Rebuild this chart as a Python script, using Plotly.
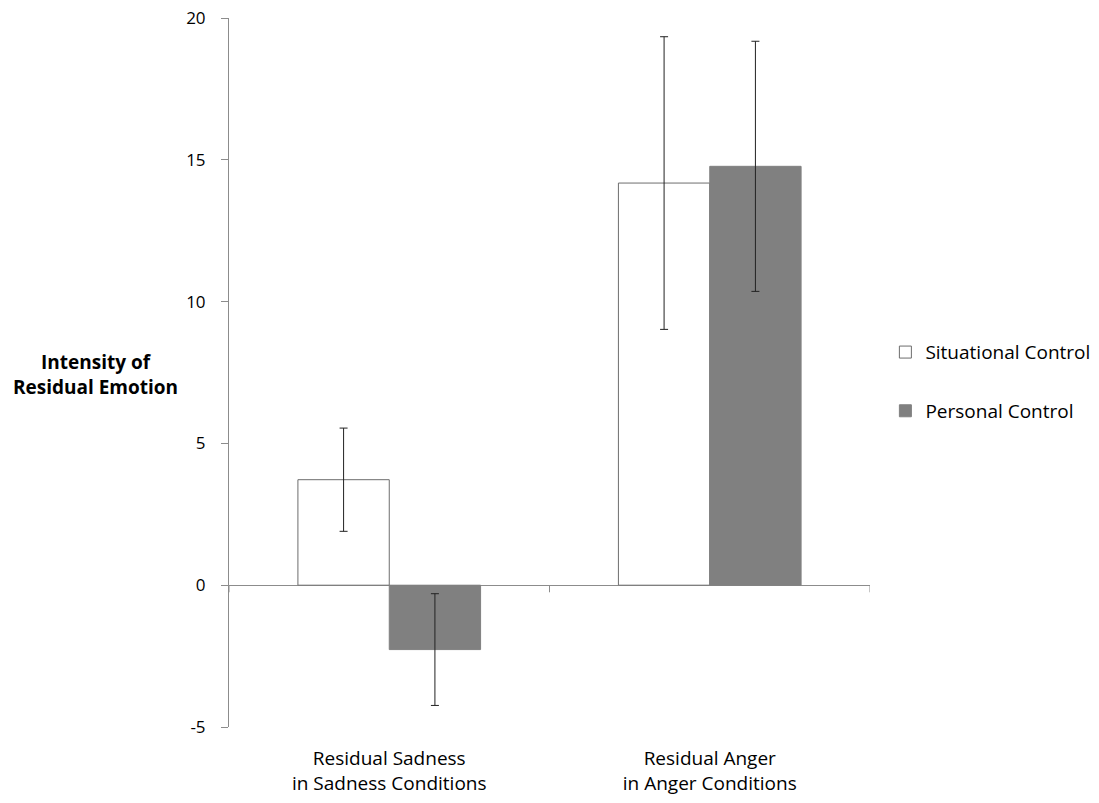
import plotly.graph_objects as go

categories = ["Residual Sadness<br>in Sadness Conditions", "Residual Anger<br>in Anger Conditions"]
situational = [3.72, 14.18]
situational_err = [1.82, 5.16]
personal = [-2.27, 14.77]
personal_err = [1.97, 4.41]
y_tick_vals = [-5, 0, 5, 10, 15, 20]
y_tick_text = ["-5", "0", "5", "10", "15", "20"]

FONT = "Open Sans"
FS = 19
fig = go.Figure()
fig.add_trace(go.Bar(
    x=categories, y=situational, name="Situational Control", legendgroup="a",
    marker=dict(color="white", line=dict(color="#6d6d6d", width=1)),
    error_y=dict(type="data", array=situational_err, color="#222222", thickness=1, width=4),
))
fig.add_trace(go.Bar(
    x=categories, y=personal, name="Personal Control", legendgroup="b",
    marker=dict(color="#808080", line=dict(color="#808080", width=1)),
    error_y=dict(type="data", array=personal_err, color="#222222", thickness=1, width=4),
))

# x-axis line ticks at category boundaries (on zero line)
for xb in [-0.5, 0.5, 1.5]:
    fig.add_shape(type="line", xref="x", yref="y", x0=xb, x1=xb, y0=0, y1=-0.25,
                  line=dict(color="#8c8c8c", width=1), layer="below")

fig.add_annotation(text="<b>Intensity of<br>Residual Emotion</b>", xref="paper", yref="paper",
                   x=-0.209, y=0.497, xanchor="center", yanchor="middle", showarrow=False,
                   font=dict(family=FONT, size=FS, color="black"), align="center")

fig.update_layout(
    width=1099, height=803,
    margin=dict(l=229, r=229, t=18, b=76, autoexpand=False),
    paper_bgcolor="white", plot_bgcolor="white",
    barmode="group", bargap=0.43, bargroupgap=0,
    font=dict(family=FONT, size=FS, color="black"),
    showlegend=True,
    legend=dict(x=1.024, y=0.487, xanchor="left", yanchor="middle", traceorder="grouped",
                tracegroupgap=31, font=dict(family=FONT, size=FS, color="black"),
                bgcolor="rgba(0,0,0,0)"),
    xaxis=dict(type="category", range=[-0.5, 1.5], showline=False, showgrid=False,
               ticks="", zeroline=False, ticklabelstandoff=18, automargin=False),
    yaxis=dict(range=[-5, 20], tickvals=y_tick_vals, ticktext=y_tick_text, showgrid=False,
               showline=True, linecolor="#8c8c8c", linewidth=1, ticks="outside",
               ticklen=7, tickcolor="#8c8c8c", zeroline=True, zerolinecolor="#8c8c8c",
               zerolinewidth=1, ticklabelstandoff=12, automargin=False,
               ticklabeloverflow="allow", tickfont=dict(family=FONT, size=17, color="black")),
)
fig.write_html("out.html", config={"displayModeBar": False},
               post_script="document.body.style.margin='0';")
